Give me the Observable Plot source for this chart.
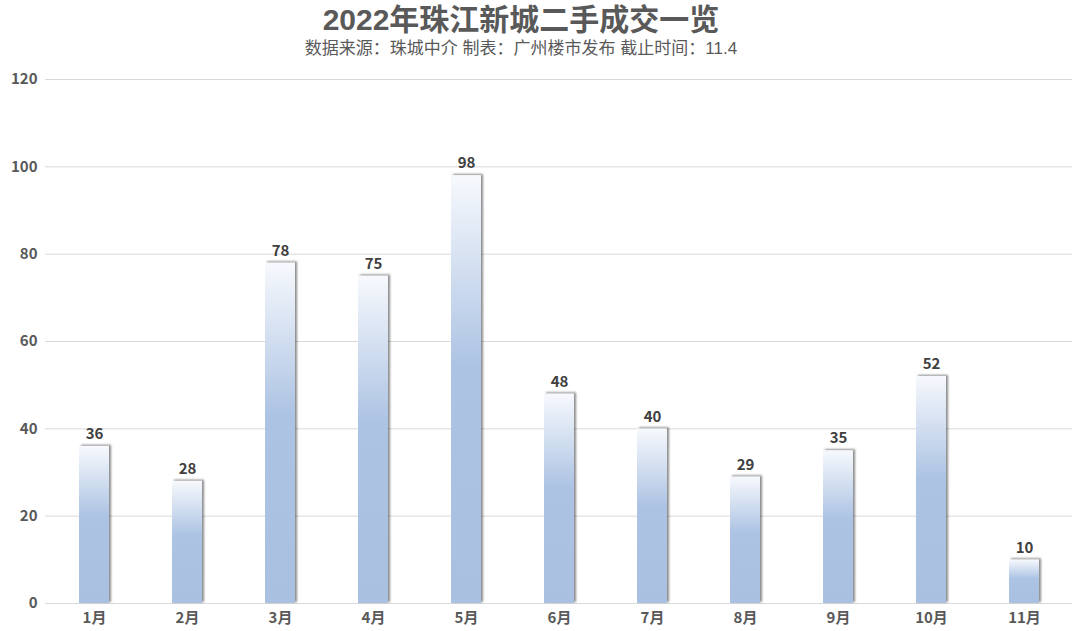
<!DOCTYPE html>
<html><head><meta charset="utf-8">
<script src="https://cdn.jsdelivr.net/npm/d3@7"></script>
<script src="https://cdn.jsdelivr.net/npm/@observablehq/plot@0.6"></script>
<style>
body{margin:0;background:#fff;font-family:"Noto Sans CJK SC","Noto Sans",sans-serif;}
#wrap{width:1080px;height:631px;position:relative;overflow:hidden;}
h1{margin:0;position:absolute;top:3px;left:0;width:1042px;text-align:center;font-family:"Liberation Sans","Noto Sans CJK SC",sans-serif;font-size:30px;font-weight:700;color:#595959;line-height:34px;white-space:nowrap;}
.sub{position:absolute;top:39px;left:0;width:1042px;text-align:center;font-family:"Liberation Sans","Noto Sans CJK SC",sans-serif;font-size:17px;color:#595959;line-height:19px;white-space:nowrap;}
#chart{position:absolute;top:62px;left:0;}
#chart g[aria-label="bar"] rect{filter:drop-shadow(2px -1px 1px rgba(0,0,0,0.45));}
</style></head><body>
<div id="wrap">
<h1>2022年珠江新城二手成交一览</h1>
<div class="sub">数据来源：珠城中介 制表：广州楼市发布 截止时间：11.4</div>
<div id="chart"></div>
</div>
<script>
const months = ["1月","2月","3月","4月","5月","6月","7月","8月","9月","10月","11月"];
const values = [36,28,78,75,98,48,40,29,35,52,10];
const yTicks = [0,20,40,60,80,100,120];

const data = months.map((m,i)=>({month:m,value:values[i]}));
const NS = "http://www.w3.org/2000/svg";
function defs(){
  const d = document.createElementNS(NS,"defs");
  d.innerHTML = `<linearGradient id="barGrad" x1="0" y1="0" x2="0" y2="1">
    <stop offset="0" stop-color="#f7f9fd"/>
    <stop offset="0.45" stop-color="#acc3e3"/>
    <stop offset="1" stop-color="#a9c0e1"/>
  </linearGradient>`;
  return d;
}
const chart = Plot.plot({
  width:1080, height:569,
  marginTop:17, marginBottom:28, marginLeft:45, marginRight:8,
  style:{fontFamily:'"Noto Sans CJK SC","Noto Sans",sans-serif', background:"#fff"},
  x:{domain:months, paddingInner:0.68, paddingOuter:0.34, label:null},
  y:{domain:[0,120], label:null},
  marks:[
    defs,
    Plot.gridY(yTicks,{stroke:"#d9d9d9", strokeOpacity:1}),
    Plot.axisY(yTicks,{tickSize:0, tickPadding:8, fontSize:15, fontWeight:700, fill:"#595959", label:null}),
    Plot.axisX({tickSize:0, tickPadding:9, fontSize:15, fontWeight:700, fill:"#595959", label:null}),
    Plot.barY(data,{x:"month", y:"value", fill:"url(#barGrad)"}),
    Plot.text(data,{x:"month", y:"value", text:d=>String(d.value), dy:-12, fontSize:15, fontWeight:700, fill:"#404040"})
  ]
});
document.getElementById("chart").appendChild(chart);
</script>
</body></html>
